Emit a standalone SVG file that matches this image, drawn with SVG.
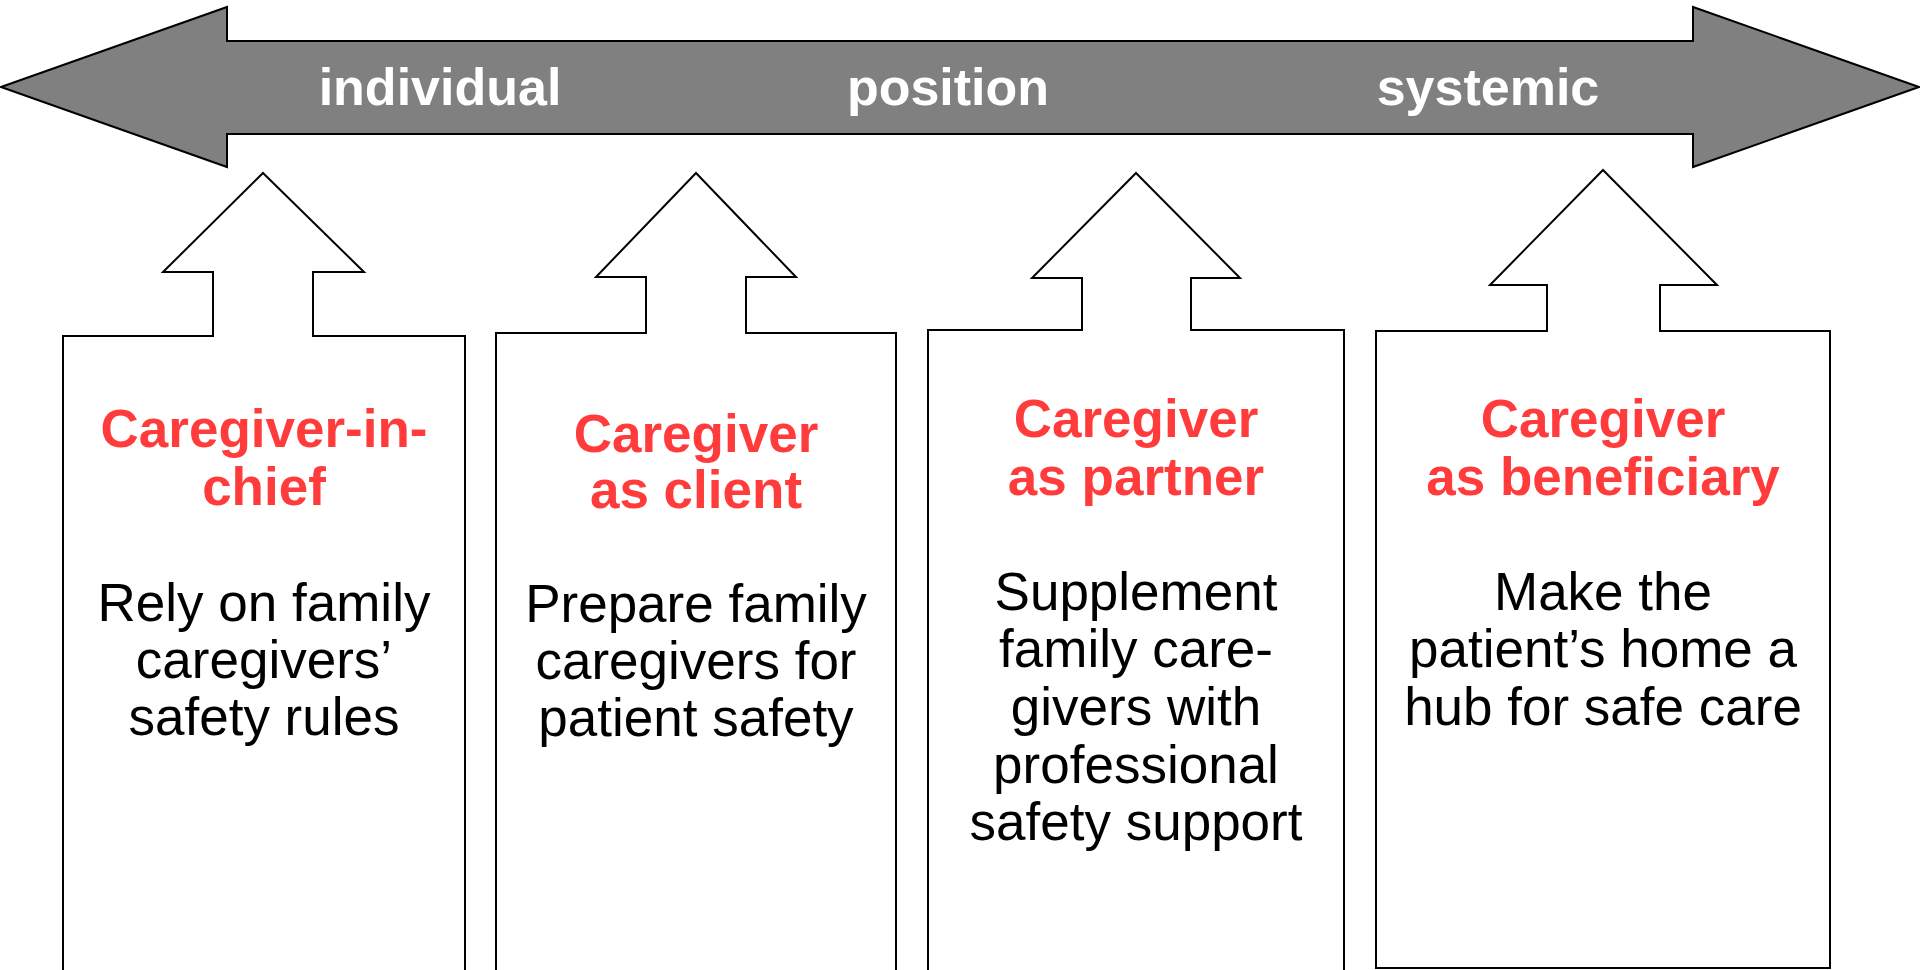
<svg xmlns="http://www.w3.org/2000/svg" width="1920" height="970" viewBox="0 0 1920 970">
<style>
.shape{fill:#ffffff;stroke:#000000;stroke-width:2;stroke-linejoin:miter}
.band{fill:#808080;stroke:#000000;stroke-width:2}
.axis{font-family:"Liberation Sans",Arial,sans-serif;font-weight:bold;font-size:52px;fill:#ffffff;text-anchor:middle}
.title{font-family:"Liberation Sans",Arial,sans-serif;font-weight:bold;font-size:53px;fill:#FF3B3B;text-anchor:middle}
.body{font-family:"Liberation Sans",Arial,sans-serif;font-size:53px;fill:#000000;text-anchor:middle}
</style>
<rect width="1920" height="970" fill="#ffffff"/>
<g id="connectors">
<g id="position-axis">
<polygon class="band" points="1,87 227,7 227,41 1693,41 1693,7 1919,87 1693,167 1693,134 227,134 227,167"/>
<text class="axis" x="440" y="105">individual</text>
<text class="axis" x="948" y="105">position</text>
<text class="axis" x="1488" y="105">systemic</text>
</g>
</g>
<g id="node-chief">
<polygon class="shape" points="263,173 364,272 313,272 313,336 465,336 465,990 63,990 63,336 213,336 213,272 163,272"/>
<text class="title" x="264" y="447">Caregiver-in-</text>
<text class="title" x="264" y="505">chief</text>
<text class="body" x="264" y="621">Rely on family</text>
<text class="body" x="264" y="678">caregivers’</text>
<text class="body" x="264" y="735">safety rules</text>
</g>
<g id="node-client">
<polygon class="shape" points="696,173 796,277 746,277 746,333 896,333 896,990 496,990 496,333 646,333 646,277 596,277"/>
<text class="title" x="696" y="452">Caregiver</text>
<text class="title" x="696" y="508">as client</text>
<text class="body" x="696" y="622">Prepare family</text>
<text class="body" x="696" y="679">caregivers for</text>
<text class="body" x="696" y="736">patient safety</text>
</g>
<g id="node-partner">
<polygon class="shape" points="1136,173 1240,278 1191,278 1191,330 1344,330 1344,990 928,990 928,330 1082,330 1082,278 1032,278"/>
<text class="title" x="1136" y="437">Caregiver</text>
<text class="title" x="1136" y="495">as partner</text>
<text class="body" x="1136" y="610">Supplement</text>
<text class="body" x="1136" y="667">family care-</text>
<text class="body" x="1136" y="725">givers with</text>
<text class="body" x="1136" y="783">professional</text>
<text class="body" x="1136" y="840">safety support</text>
</g>
<g id="node-beneficiary">
<polygon class="shape" points="1603,170 1717,285 1660,285 1660,331 1830,331 1830,968 1376,968 1376,331 1547,331 1547,285 1490,285"/>
<text class="title" x="1603" y="437">Caregiver</text>
<text class="title" x="1603" y="495">as beneficiary</text>
<text class="body" x="1603" y="610">Make the</text>
<text class="body" x="1603" y="667">patient’s home a</text>
<text class="body" x="1603" y="725">hub for safe care</text>
</g>
</svg>
